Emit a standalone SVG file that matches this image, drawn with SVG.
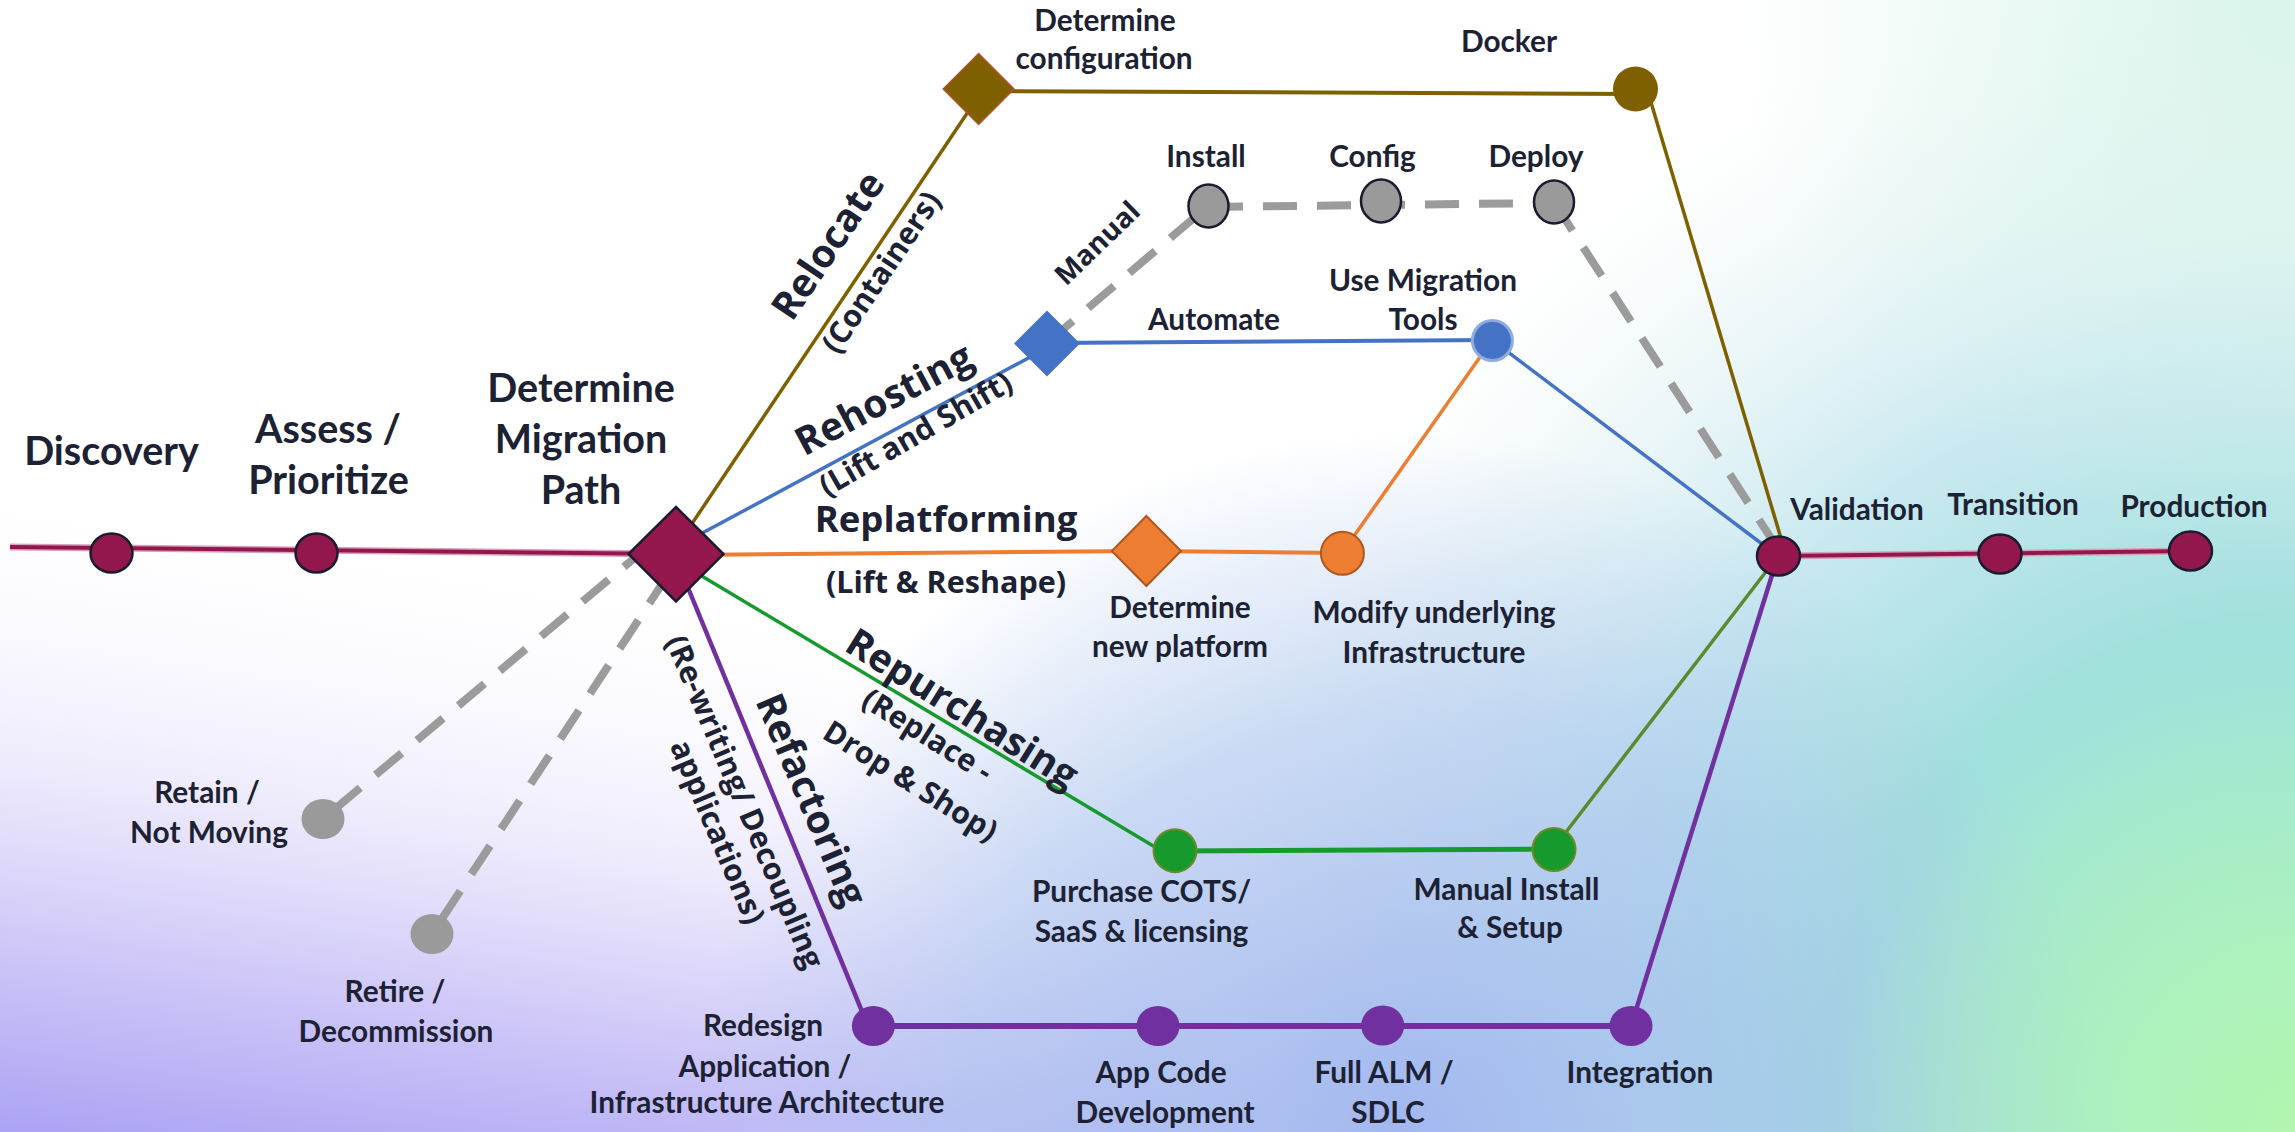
<svg xmlns="http://www.w3.org/2000/svg" width="2295" height="1132" viewBox="0 0 2295 1132">
  <defs>
    <style>
      .lbl { font-family: Lato, "Liberation Sans", sans-serif; font-weight: 700; fill: #1c2233; text-anchor: middle; }
      .big { font-size: 39.5px; }
      .sm { font-size: 29.8px; }
      .hd { font-family: "Open Sans", "Liberation Sans", sans-serif; font-weight: 700; font-size: 39px; fill: #1c2233; text-anchor: middle; }
      .sub { font-family: "Open Sans", "Liberation Sans", sans-serif; font-weight: 700; font-size: 30.5px; fill: #1c2233; text-anchor: middle; }
      .man { font-family: "Open Sans", "Liberation Sans", sans-serif; font-weight: 700; font-size: 28px; fill: #1c2233; text-anchor: middle; }
      .dash { stroke: #9b9b9b; stroke-width: 8; stroke-dasharray: 34 20; fill: none; }
      .ln { fill: none; stroke-linecap: butt; }
      .maroon { fill: #93174d; stroke: #1b1b2f; stroke-width: 2.5; }
      .gray { fill: #9a9a9a; stroke: #1b1b2f; stroke-width: 2.5; }
      .grayflat { fill: #9a9a9a; }
      .purple { fill: #7030a0; }
      .green { fill: #179a2d; stroke: #6e8a2a; stroke-width: 2; }
      .orange { fill: #ed7d31; stroke: #ad5720; stroke-width: 2; }
    </style>
    <linearGradient id="bgLav" gradientUnits="userSpaceOnUse" x1="100" y1="480" x2="0" y2="1132">
      <stop offset="0" stop-color="#ffffff" stop-opacity="0"/>
      <stop offset="0.45" stop-color="#ebe8fc" stop-opacity="0.9"/>
      <stop offset="0.72" stop-color="#cec7f8"/>
      <stop offset="1" stop-color="#aba3f3"/>
    </linearGradient>
    <radialGradient id="bgTeal" gradientUnits="userSpaceOnUse" cx="2295" cy="1080" r="1150">
      <stop offset="0" stop-color="#a6eccc"/>
      <stop offset="0.4" stop-color="#a2e0dc"/>
      <stop offset="0.62" stop-color="#c2e6ee" stop-opacity="0.9"/>
      <stop offset="0.85" stop-color="#eaf5f6" stop-opacity="0.55"/>
      <stop offset="1" stop-color="#ffffff" stop-opacity="0"/>
    </radialGradient>
    <radialGradient id="bgMint" gradientUnits="userSpaceOnUse" cx="2295" cy="0" r="560">
      <stop offset="0" stop-color="#d8f4ea"/>
      <stop offset="1" stop-color="#d8f4ea" stop-opacity="0"/>
    </radialGradient>
    <radialGradient id="bgBlue" gradientUnits="userSpaceOnUse" cx="1400" cy="1132" r="700">
      <stop offset="0" stop-color="#9cb2ee" stop-opacity="0.9"/>
      <stop offset="0.6" stop-color="#a4c0ec" stop-opacity="0.55"/>
      <stop offset="1" stop-color="#a4c0ec" stop-opacity="0"/>
    </radialGradient>
    <radialGradient id="bgGreen" gradientUnits="userSpaceOnUse" cx="2295" cy="1132" r="460">
      <stop offset="0" stop-color="#b2f6b0"/>
      <stop offset="1" stop-color="#b2f6b0" stop-opacity="0"/>
    </radialGradient>
  </defs>

  <!-- background wash -->
  <rect width="2295" height="1132" fill="#ffffff"/>
  <rect width="2295" height="1132" fill="url(#bgLav)"/>
  <rect width="2295" height="1132" fill="url(#bgTeal)"/>
  <rect width="2295" height="1132" fill="url(#bgMint)"/>
  <rect width="2295" height="1132" fill="url(#bgBlue)"/>
  <rect width="2295" height="1132" fill="url(#bgGreen)"/>

  <!-- connectors -->
  <g id="connectors">
    <!-- main spine -->
    <polyline class="ln" points="10,547 676,554" stroke="#d9a0bb" stroke-width="7"/>
    <polyline class="ln" points="10,547 676,554" stroke="#93174d" stroke-width="4"/>
    <polyline class="ln" points="1778,556 2190,551" stroke="#d9a0bb" stroke-width="7"/>
    <polyline class="ln" points="1778,556 2190,551" stroke="#93174d" stroke-width="4"/>

    <!-- not migrating -->
    <line class="dash" x1="650" y1="545" x2="323" y2="819"/>
    <line class="dash" x1="668" y1="575" x2="432" y2="934"/>

    <!-- relocate (containers) -->
    <line class="ln" x1="681" y1="540" x2="978" y2="97" stroke="#7f6000" stroke-width="3.5"/>
    <line class="ln" x1="979" y1="91" x2="1635" y2="94" stroke="#7f6000" stroke-width="4"/>
    <line class="ln" x1="1647" y1="89" x2="1783" y2="545" stroke="#7f6000" stroke-width="3.5"/>

    <!-- rehosting -->
    <line class="ln" x1="680" y1="545" x2="1047" y2="348" stroke="#4472c4" stroke-width="3.5"/>
    <line class="ln" x1="1047" y1="343" x2="1492" y2="340" stroke="#4472c4" stroke-width="4"/>
    <line class="ln" x1="1492" y1="340" x2="1778" y2="556" stroke="#4472c4" stroke-width="3.5"/>
    <line class="dash" x1="1047" y1="343" x2="1208" y2="206"/>
    <line class="dash" x1="1209" y1="207" x2="1554" y2="203" stroke-dasharray="32 22"/>
    <line class="dash" x1="1554" y1="202" x2="1778" y2="549"/>

    <!-- replatforming -->
    <polyline class="ln" points="676,555 1146,551 1342,553" stroke="#ed7d31" stroke-width="4"/>
    <line class="ln" x1="1342" y1="553" x2="1492" y2="340" stroke="#ed7d31" stroke-width="3.5"/>

    <!-- repurchasing -->
    <line class="ln" x1="690" y1="569" x2="1160" y2="850" stroke="#179a2d" stroke-width="3.5"/>
    <line class="ln" x1="1175" y1="851" x2="1553" y2="849" stroke="#179a2d" stroke-width="5"/>
    <line class="ln" x1="1553" y1="849" x2="1778" y2="556" stroke="#5b8a2e" stroke-width="3.5"/>

    <!-- refactoring -->
    <line class="ln" x1="684" y1="578" x2="868" y2="1026" stroke="#7030a0" stroke-width="4.5"/>
    <line class="ln" x1="873" y1="1026" x2="1631" y2="1026" stroke="#7030a0" stroke-width="6"/>
    <line class="ln" x1="1631" y1="1026" x2="1778" y2="556" stroke="#7030a0" stroke-width="4.5"/>
  </g>

  <!-- path labels along the branches -->
  <g id="branch-labels">
    <text class="hd" transform="translate(839 253) rotate(-56)">Relocate</text>
    <text class="sub" transform="translate(890 278) rotate(-56)">(Containers)</text>
    <text class="hd" transform="translate(890 411) rotate(-28)">Rehosting</text>
    <text class="sub" transform="translate(921 443) rotate(-30)">(Lift and Shift)</text>
    <text class="man" transform="translate(1104 250) rotate(-44)">Manual</text>
    <text class="lbl sm" x="1214" y="330">Automate</text>
    <text class="hd" x="946" y="532" style="font-size:36.5px">Replatforming</text>
    <text class="sub" x="946" y="593">(Lift &amp; Reshape)</text>
    <text class="hd" transform="translate(955 720) rotate(32)">Repurchasing</text>
    <text class="sub" transform="translate(922 744) rotate(32)">(Replace -</text>
    <text class="sub" transform="translate(905 790) rotate(32)">Drop &amp; Shop)</text>
    <text class="hd" transform="translate(799 805) rotate(67)">Refactoring</text>
    <text class="sub" transform="translate(735 806) rotate(67)">(Re-writing/ Decoupling</text>
    <text class="sub" transform="translate(708 836) rotate(67)">applications)</text>
  </g>

  <!-- spine stations -->
  <g id="n-discovery">
    <ellipse class="maroon" cx="111.5" cy="553" rx="21" ry="19.5"/>
    <text class="lbl big" x="111.5" y="465">Discovery</text>
  </g>
  <g id="n-assess">
    <ellipse class="maroon" cx="316.5" cy="553" rx="21" ry="19.5"/>
    <text class="lbl big" x="328" y="443">Assess /</text>
    <text class="lbl big" x="328.5" y="494">Prioritize</text>
  </g>
  <g id="n-determine-path">
    <polygon class="maroon" points="676,507 723.5,554 676,601.5 628.5,554"/>
    <text class="lbl big" x="581" y="402">Determine</text>
    <text class="lbl big" x="581" y="453">Migration</text>
    <text class="lbl big" x="581" y="504">Path</text>
  </g>
  <g id="n-validation">
    <ellipse class="maroon" cx="1778.5" cy="556" rx="21.5" ry="19.5"/>
    <text class="lbl sm" x="1857" y="520">Validation</text>
  </g>
  <g id="n-transition">
    <ellipse class="maroon" cx="2000" cy="554" rx="21.5" ry="19.5"/>
    <text class="lbl sm" x="2013" y="515">Transition</text>
  </g>
  <g id="n-production">
    <ellipse class="maroon" cx="2190.5" cy="551" rx="21.5" ry="19.5"/>
    <text class="lbl sm" x="2194" y="517">Production</text>
  </g>

  <!-- retain / retire -->
  <g id="n-retain">
    <ellipse class="grayflat" cx="323" cy="819" rx="21.5" ry="20"/>
    <text class="lbl sm" x="207" y="803">Retain /</text>
    <text class="lbl sm" x="209" y="843">Not Moving</text>
  </g>
  <g id="n-retire">
    <ellipse class="grayflat" cx="432" cy="934" rx="21.5" ry="20"/>
    <text class="lbl sm" x="395" y="1002">Retire /</text>
    <text class="lbl sm" x="396" y="1042">Decommission</text>
  </g>

  <!-- relocate -->
  <g id="n-determine-config">
    <polygon points="978.6,53.5 1014,89 978.6,124.5 943.2,89" fill="#7f6000" stroke="#b5522a" stroke-width="1.5"/>
    <text class="lbl sm" x="1105" y="31">Determine</text>
    <text class="lbl sm" x="1104" y="68.5">configuration</text>
  </g>
  <g id="n-docker">
    <circle cx="1635.5" cy="89" r="22.5" fill="#7f6000"/>
    <text class="lbl sm" x="1509" y="52">Docker</text>
  </g>

  <!-- rehosting -->
  <g id="n-rehost-choice">
    <polygon points="1047,310.5 1080,343.5 1047,376.5 1014,343.5" fill="#4472c4"/>
  </g>
  <g id="n-install">
    <ellipse class="gray" cx="1208.5" cy="206" rx="20" ry="21.5"/>
    <text class="lbl sm" x="1206" y="167">Install</text>
  </g>
  <g id="n-config">
    <ellipse class="gray" cx="1381" cy="201" rx="20" ry="21.5"/>
    <text class="lbl sm" x="1372.5" y="167">Config</text>
  </g>
  <g id="n-deploy">
    <ellipse class="gray" cx="1554" cy="202" rx="20" ry="21.5"/>
    <text class="lbl sm" x="1536" y="167">Deploy</text>
  </g>
  <g id="n-migration-tools">
    <circle cx="1492.4" cy="340.5" r="20" fill="#4472c4" stroke="#8fabdf" stroke-width="3"/>
    <text class="lbl sm" x="1423" y="291">Use Migration</text>
    <text class="lbl sm" x="1423" y="330">Tools</text>
  </g>

  <!-- replatforming -->
  <g id="n-new-platform">
    <polygon class="orange" points="1146.4,516 1181,551 1146.4,586 1111.8,551"/>
    <text class="lbl sm" x="1180" y="618">Determine</text>
    <text class="lbl sm" x="1180" y="657">new platform</text>
  </g>
  <g id="n-modify-infra">
    <circle class="orange" cx="1342.4" cy="553.3" r="21.5"/>
    <text class="lbl sm" x="1434" y="623">Modify underlying</text>
    <text class="lbl sm" x="1434" y="663">Infrastructure</text>
  </g>

  <!-- repurchasing -->
  <g id="n-purchase">
    <circle class="green" cx="1175" cy="850.7" r="21.5"/>
    <text class="lbl sm" x="1141.5" y="902">Purchase COTS/</text>
    <text class="lbl sm" x="1141.5" y="942">SaaS &amp; licensing</text>
  </g>
  <g id="n-manual-install">
    <circle class="green" cx="1554" cy="849.5" r="21.5"/>
    <text class="lbl sm" x="1506.5" y="900">Manual Install</text>
    <text class="lbl sm" x="1510" y="938">&amp; Setup</text>
  </g>

  <!-- refactoring -->
  <g id="n-redesign">
    <ellipse class="purple" cx="873.4" cy="1026" rx="21.5" ry="20"/>
    <text class="lbl sm" x="763" y="1036">Redesign</text>
    <text class="lbl sm" x="765" y="1077">Application /</text>
    <text class="lbl sm" x="767" y="1113">Infrastructure Architecture</text>
  </g>
  <g id="n-app-code">
    <ellipse class="purple" cx="1158" cy="1026" rx="21.5" ry="20"/>
    <text class="lbl sm" x="1161" y="1083">App Code</text>
    <text class="lbl sm" x="1165" y="1123">Development</text>
  </g>
  <g id="n-alm">
    <ellipse class="purple" cx="1382.7" cy="1025.5" rx="21.5" ry="20"/>
    <text class="lbl sm" x="1384" y="1083">Full ALM /</text>
    <text class="lbl sm" x="1388" y="1123">SDLC</text>
  </g>
  <g id="n-integration">
    <ellipse class="purple" cx="1631" cy="1026" rx="21.5" ry="20"/>
    <text class="lbl sm" x="1640" y="1083">Integration</text>
  </g>
</svg>
